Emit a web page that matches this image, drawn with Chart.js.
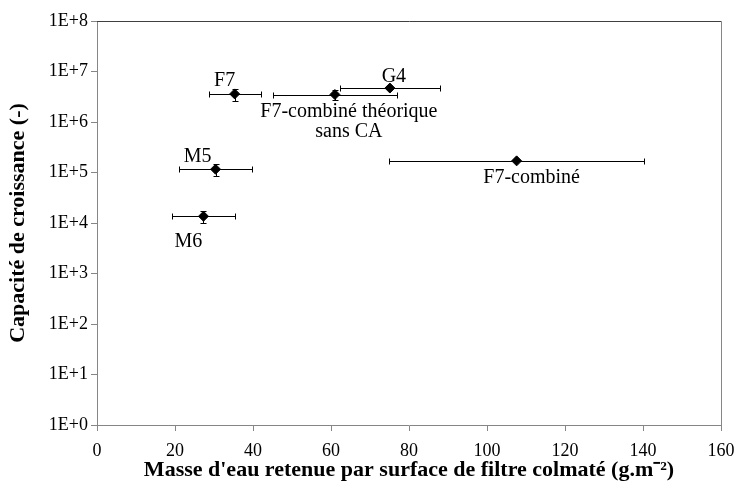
<!DOCTYPE html>
<html>
<head>
<meta charset="utf-8">
<script src="https://cdn.jsdelivr.net/npm/chart.js@4/dist/chart.umd.min.js"></script>
<style>
  html, body { margin: 0; padding: 0; background: #ffffff; }
  #wrap { width: 740px; height: 488px; }
</style>
</head>
<body>
<div id="wrap"><canvas id="chart" width="740" height="488"></canvas></div>
<script>
// Filter types and their measured values
const filters = ['F7', 'F7-combiné théorique\nsans CA', 'G4', 'M5', 'M6', 'F7-combiné'];
const waterMass = [35.3, 61.0, 75.1, 30.4, 27.3, 107.6];          // g.m-2
const waterMassErr = [6.7, 15.8, 12.8, 9.3, 8.0, 32.7];
const growthCapacity = [3.6e6, 3.5e6, 4.7e6, 1.16e5, 1.36e4, 1.7e5];
const growthCapacityErr = [1.0e6, 0.8e6, 0, 3.0e4, 3.7e3, 0];

const xTicks = [0, 20, 40, 60, 80, 100, 120, 140, 160];
const yTickLabels = ['1E+0', '1E+1', '1E+2', '1E+3', '1E+4', '1E+5', '1E+6', '1E+7', '1E+8'];

// Pixel offsets of each name label from its marker
const labelOffsets = [[-10, -13], [14, 17], [4, -11], [-18, -12], [-15, 25], [15, 17]];

const SERIF = "'Liberation Serif', 'Times New Roman', serif";
const AXIS_GREY = '#868686';

const errorBars = {
  id: 'errorBars',
  beforeDatasetsDraw(chart) {
    const { ctx, scales: { x, y } } = chart;
    const cap = 3;
    ctx.save();
    ctx.strokeStyle = '#000000';
    ctx.lineWidth = 1;
    const seg = (x1, y1, x2, y2) => {
      ctx.beginPath();
      ctx.moveTo(x1, y1);
      ctx.lineTo(x2, y2);
      ctx.stroke();
    };
    waterMass.forEach((m, i) => {
      const py = Math.round(y.getPixelForValue(growthCapacity[i])) + 0.5;
      const px = Math.round(x.getPixelForValue(m)) + 0.5;
      const dx = waterMassErr[i];
      if (dx) {
        const x1 = Math.round(x.getPixelForValue(m - dx)) + 0.5;
        const x2 = Math.round(x.getPixelForValue(m + dx)) + 0.5;
        seg(x1, py, x2, py);
        seg(x1, py - cap, x1, py + cap);
        seg(x2, py - cap, x2, py + cap);
      }
      const dy = growthCapacityErr[i];
      if (dy) {
        const y1 = Math.round(y.getPixelForValue(growthCapacity[i] + dy)) + 0.5;
        const y2 = Math.round(y.getPixelForValue(growthCapacity[i] - dy)) + 0.5;
        seg(px, y1, px, y2);
        seg(px - cap, y1, px + cap, y1);
        seg(px - cap, y2, px + cap, y2);
      }
    });
    ctx.restore();
  }
};

const nameLabels = {
  id: 'nameLabels',
  afterDatasetsDraw(chart) {
    const { ctx, scales: { x, y } } = chart;
    ctx.save();
    ctx.fillStyle = '#000000';
    ctx.font = '20px ' + SERIF;
    ctx.textAlign = 'center';
    ctx.textBaseline = 'middle';
    filters.forEach((name, i) => {
      const px = x.getPixelForValue(waterMass[i]) + labelOffsets[i][0];
      const py = y.getPixelForValue(growthCapacity[i]) + labelOffsets[i][1];
      name.split('\n').forEach((line, k) => ctx.fillText(line, px, py + k * 20));
    });
    ctx.restore();
  }
};

const plotFrame = {
  id: 'plotFrame',
  beforeDatasetsDraw(chart) {
    const { ctx, chartArea: a } = chart;
    ctx.save();
    ctx.lineWidth = 1;
    ctx.strokeStyle = '#404040';
    ctx.beginPath();
    ctx.moveTo(Math.round(a.left), Math.round(a.top) + 0.5);
    ctx.lineTo(Math.round(a.right) + 0.5, Math.round(a.top) + 0.5);
    ctx.stroke();
    ctx.strokeStyle = AXIS_GREY;
    ctx.beginPath();
    ctx.moveTo(Math.round(a.right) + 0.5, Math.round(a.top) + 0.5);
    ctx.lineTo(Math.round(a.right) + 0.5, Math.round(a.bottom));
    ctx.stroke();
    ctx.restore();
  }
};

new Chart(document.getElementById('chart'), {
  type: 'scatter',
  data: {
    datasets: [{
      data: waterMass.map((m, i) => ({ x: m, y: growthCapacity[i] })),
      pointStyle: 'rectRot',
      pointRadius: 5,
      pointHoverRadius: 5,
      backgroundColor: '#000000',
      borderColor: '#000000',
      borderWidth: 1
    }]
  },
  options: {
    responsive: false,
    devicePixelRatio: 1,
    animation: false,
    layout: { padding: { top: 21, right: 19, left: 0, bottom: 0 } },
    plugins: { legend: { display: false }, tooltip: { enabled: false } },
    scales: {
      x: {
        type: 'linear',
        min: xTicks[0],
        max: xTicks[xTicks.length - 1],
        afterBuildTicks: s => { s.ticks = xTicks.map(v => ({ value: v })); },
        ticks: { color: '#000000', font: { family: SERIF, size: 18 }, padding: 9, maxRotation: 0 },
        grid: { drawOnChartArea: false, drawTicks: true, tickLength: 6, color: AXIS_GREY },
        border: { display: true, color: AXIS_GREY, width: 1 },
        title: {
          display: true,
          text: "Masse d'eau retenue par surface de filtre colmaté (g.m⁻²)",
          color: '#000000',
          font: { family: SERIF, size: 22, weight: 'bold' },
          padding: { top: 0, bottom: 4 }
        },
        afterFit: s => { s.height = 63; s.paddingLeft = 0; s.paddingRight = 0; }
      },
      y: {
        type: 'logarithmic',
        min: 1,
        max: 1e8,
        afterBuildTicks: s => { s.ticks = yTickLabels.map((_, i) => ({ value: Math.pow(10, i) })); },
        ticks: {
          color: '#000000',
          font: { family: SERIF, size: 18 },
          padding: 3,
          autoSkip: false,
          callback: v => yTickLabels[Math.round(Math.log10(v))]
        },
        grid: { drawOnChartArea: false, drawTicks: true, tickLength: 6, color: AXIS_GREY },
        border: { display: true, color: AXIS_GREY, width: 1 },
        title: {
          display: true,
          text: 'Capacité de croissance (-)',
          color: '#000000',
          font: { family: SERIF, size: 22, weight: 'bold' },
          padding: { top: 5, bottom: 0 }
        },
        afterFit: s => { s.width = 97; s.paddingTop = 0; s.paddingBottom = 0; }
      }
    }
  },
  plugins: [plotFrame, errorBars, nameLabels]
});
</script>
</body>
</html>
